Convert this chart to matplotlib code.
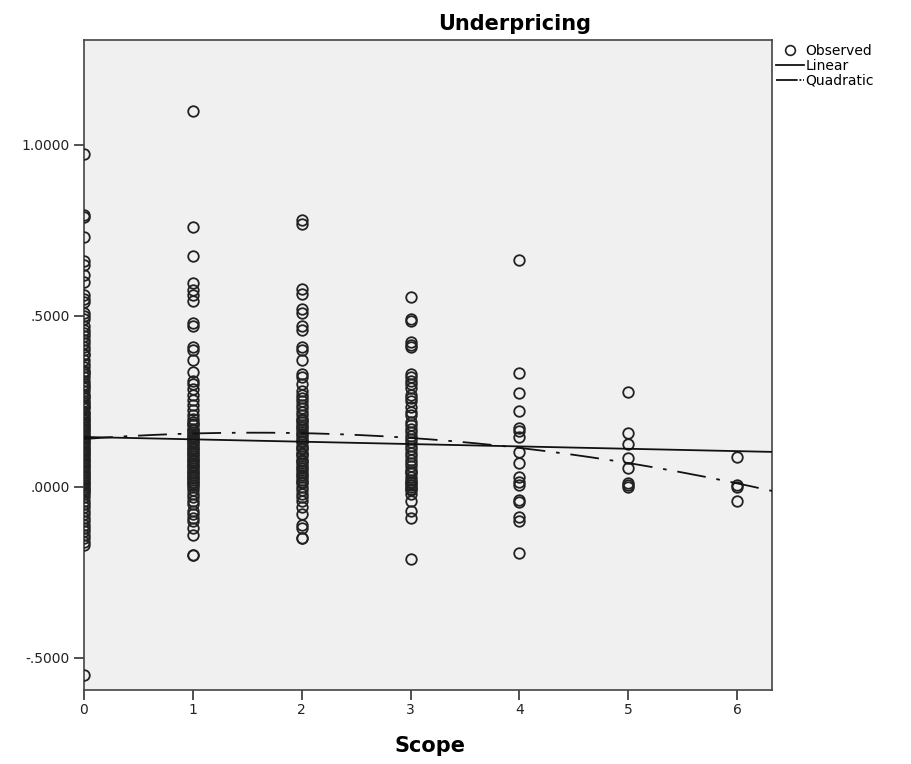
import matplotlib
matplotlib.use("Agg")
import matplotlib.pyplot as plt
from matplotlib.lines import Line2D
import numpy as np

# ---- data ----
scope_0 = [0.975, 0.795, 0.79, 0.73, 0.66, 0.65, 0.62, 0.60, 0.56, 0.55, 0.54, 0.51, 0.50, 0.49,
           0.47, 0.46, 0.45, 0.44, 0.43, 0.42, 0.41, 0.40, 0.39, 0.385, 0.37, 0.36, 0.35, 0.34,
           0.335, 0.33, 0.32, 0.31, 0.30, 0.295, 0.29, 0.28, 0.27, 0.265, 0.26, 0.25, 0.245,
           0.24, 0.235, 0.23, 0.22, 0.215, 0.21, 0.205, 0.20, 0.195, 0.19, 0.185, 0.18, 0.175,
           0.17, 0.165, 0.16, 0.155, 0.15, 0.145, 0.14, 0.135, 0.13, 0.125, 0.12, 0.115, 0.11,
           0.105, 0.10, 0.095, 0.09, 0.085, 0.08, 0.075, 0.07, 0.065, 0.06, 0.055, 0.05, 0.045,
           0.04, 0.035, 0.03, 0.025, 0.02, 0.015, 0.01, 0.005, 0.0, -0.005, -0.01, -0.015,
           -0.02, -0.03, -0.04, -0.05, -0.06, -0.07, -0.08, -0.09, -0.10, -0.11, -0.12, -0.13,
           -0.14, -0.15, -0.16, -0.17, -0.55]
scope_1 = [1.10, 0.76, 0.675, 0.595, 0.575, 0.56, 0.545, 0.48, 0.47, 0.41, 0.40, 0.37, 0.335,
           0.31, 0.30, 0.285, 0.27, 0.255, 0.24, 0.225, 0.21, 0.20, 0.19, 0.185, 0.18, 0.17,
           0.165, 0.16, 0.155, 0.15, 0.145, 0.14, 0.135, 0.13, 0.125, 0.12, 0.115, 0.11, 0.105,
           0.10, 0.095, 0.09, 0.085, 0.08, 0.075, 0.07, 0.065, 0.06, 0.055, 0.05, 0.045, 0.04,
           0.035, 0.03, 0.025, 0.02, 0.015, 0.01, 0.005, 0.0, -0.01, -0.02, -0.03, -0.04,
           -0.05, -0.07, -0.08, -0.09, -0.10, -0.12, -0.14, -0.20, -0.20]
scope_2 = [0.78, 0.77, 0.58, 0.565, 0.52, 0.51, 0.47, 0.46, 0.41, 0.40, 0.37, 0.33, 0.32, 0.30,
           0.28, 0.27, 0.26, 0.25, 0.24, 0.23, 0.22, 0.21, 0.20, 0.195, 0.19, 0.18, 0.175, 0.17,
           0.16, 0.155, 0.15, 0.14, 0.135, 0.13, 0.12, 0.115, 0.11, 0.10, 0.095, 0.09, 0.08,
           0.075, 0.07, 0.06, 0.055, 0.05, 0.04, 0.035, 0.03, 0.02, 0.015, 0.01, 0.0, -0.01,
           -0.02, -0.03, -0.04, -0.06, -0.08, -0.11, -0.12, -0.15, -0.15]
scope_3 = [0.555, 0.49, 0.485, 0.425, 0.415, 0.41, 0.33, 0.32, 0.31, 0.30, 0.29, 0.27, 0.26,
           0.25, 0.235, 0.22, 0.21, 0.19, 0.18, 0.17, 0.16, 0.15, 0.14, 0.13, 0.12, 0.11, 0.10,
           0.09, 0.08, 0.07, 0.06, 0.05, 0.045, 0.04, 0.03, 0.02, 0.015, 0.01, 0.005, 0.0,
           -0.005, -0.01, -0.02, -0.04, -0.07, -0.09, -0.21]
scope_4 = [0.665, 0.333, 0.275, 0.222, 0.173, 0.163, 0.146, 0.102, 0.07, 0.03, 0.015, 0.006,
           -0.038, -0.045, -0.088, -0.10, -0.193]
scope_5 = [0.278, 0.158, 0.126, 0.085, 0.056, 0.012, 0.005, 0.0]
scope_6 = [0.088, 0.006, 0.0, -0.04]

groups = {0: scope_0, 1: scope_1, 2: scope_2, 3: scope_3, 4: scope_4, 5: scope_5, 6: scope_6}

linear_coef = [-0.0069, 0.146]               # slope, intercept
quadratic_coef = [-0.00755, 0.0237, 0.140]   # x^2, x, const

xticks = [0, 1, 2, 3, 4, 5, 6]
yticks = [-0.5, 0.0, 0.5, 1.0]
ytick_labels = ["-.5000", ".0000", ".5000", "1.0000"]

# ---- figure ----
W, H = 911, 764
fig = plt.figure(figsize=(W / 100, H / 100), dpi=100)
ax = fig.add_axes([84 / W, (H - 690) / H, 688 / W, 650 / H])
ax.set_facecolor("#f0f0f0")

xs, ys = [], []
for k, vals in groups.items():
    xs += [k] * len(vals)
    ys += vals
ax.plot(xs, ys, linestyle="none", marker="o", markersize=7.6, markerfacecolor="none",
        markeredgecolor="#222222", markeredgewidth=1.3, zorder=3)

xlim = (0, 6.32)
xx = np.linspace(xlim[0], xlim[1], 300)
ax.plot(xx, np.polyval(linear_coef, xx), color="#111111", lw=1.3, zorder=4)
ax.plot(xx, np.polyval(quadratic_coef, xx), color="#111111", lw=1.3,
        linestyle=(0, (16, 6, 2, 6)), zorder=4)

ax.set_xlim(*xlim)
ax.set_ylim(-0.594, 1.307)
ax.set_xticks(xticks)
ax.set_xticklabels([str(t) for t in xticks])
ax.set_yticks(yticks)
ax.set_yticklabels(ytick_labels)
ax.tick_params(direction="out", length=7, width=1.2, color="#333333", labelsize=10,
               labelcolor="#222222")
ax.tick_params(axis="x", pad=2)
for s in ax.spines.values():
    s.set_color("#444444")
    s.set_linewidth(1.2)

fig.text(515 / W, 1 - 24 / H, "Underpricing", ha="center", va="center",
         fontsize=15, fontweight="bold", family=["Liberation Sans Narrow", "DejaVu Sans"])
fig.text(430 / W, 1 - 746 / H, "Scope", ha="center", va="center",
         fontsize=15, fontweight="bold", family=["Liberation Sans Narrow", "DejaVu Sans"])

handles = [
    Line2D([], [], linestyle="none", marker="o", markersize=7, markerfacecolor="none",
           markeredgecolor="#222222", markeredgewidth=1.2),
    Line2D([], [], color="#111111", lw=1.3),
    Line2D([], [], color="#111111", lw=1.3, linestyle=(0, (12, 1, 1, 1))),
]
fig.legend(handles, ["Observed", "Linear", "Quadratic"], loc="upper left",
           bbox_to_anchor=(776 / W, 1 - 44 / H), frameon=False, fontsize=10,
           handlelength=2.0, handletextpad=0.1, labelspacing=0.05, borderpad=0,
           borderaxespad=0)

fig.savefig("out.png", dpi=100)
